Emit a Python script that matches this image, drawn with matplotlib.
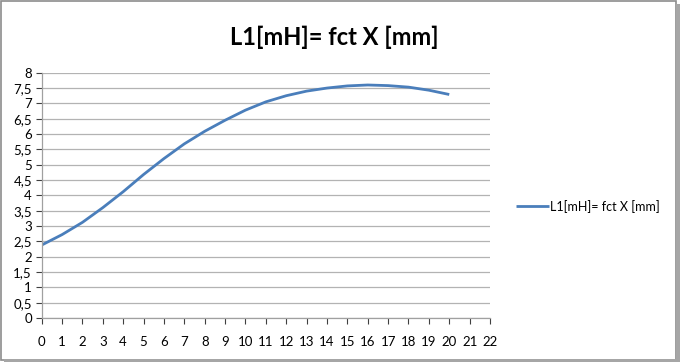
import numpy as np
import matplotlib.pyplot as plt
from matplotlib.patches import Rectangle

# Дані
x_mm = np.arange(0, 21)
l1_mh = [2.38, 2.72, 3.12, 3.6, 4.12, 4.68, 5.2, 5.68, 6.09, 6.45, 6.78,
         7.05, 7.25, 7.4, 7.5, 7.57, 7.6, 7.58, 7.53, 7.43, 7.29]
y_ticks = np.arange(0, 8.5, 0.5)
y_labels = [f"{v:g}".replace(".", ",") for v in y_ticks]
x_ticks = np.arange(0, 23)
title = "L1[mH]= fct X [mm]"

plt.rcParams['font.family'] = ['Lato', 'DejaVu Sans']

fig = plt.figure(figsize=(6.8, 3.62), dpi=100)
ax = fig.add_axes([0.0613, 0.1215, 0.6593, 0.6776])

line, = ax.plot(x_mm, l1_mh, color='#4a7ebb', lw=2.0, solid_capstyle='butt')

ax.set_xlim(0, 22)
ax.set_ylim(0, 8)
ax.set_xticks(x_ticks)
ax.set_yticks(y_ticks)
ax.set_yticklabels(y_labels)
ax.tick_params(axis='both', labelsize=9.5, colors='#404040', labelcolor='black',
               length=4, width=0.8)
ax.tick_params(axis='x', pad=9)
ax.tick_params(axis='y', pad=3)
ax.grid(axis='y', color='#b3b3b3', lw=0.9)
ax.set_axisbelow(True)
for s in ['top', 'right']:
    ax.spines[s].set_visible(False)
for s in ['left', 'bottom']:
    ax.spines[s].set_color('#a0a0a0')
    ax.spines[s].set_linewidth(0.9)

fig.text(0.492, 0.898, title, ha='center', va='center', fontsize=17, fontweight='bold')

fig.legend([line], [title], loc='center left', bbox_to_anchor=(0.743, 0.43),
           frameon=False, fontsize=9, handlelength=2.6, handletextpad=0.1)

# рамка навколо діаграми
fig.patches.append(Rectangle((0.002, 0.006), 0.992, 0.99, transform=fig.transFigure,
                             fill=False, edgecolor='#8c8c8c', lw=1.2))
fig.patches.append(Rectangle((0.994, 0.0), 0.006, 0.99, transform=fig.transFigure,
                             color='#a6a6a6', lw=0))
fig.patches.append(Rectangle((0.006, 0.0), 0.994, 0.008, transform=fig.transFigure,
                             color='#a6a6a6', lw=0))

fig.savefig('out.png', dpi=100)
